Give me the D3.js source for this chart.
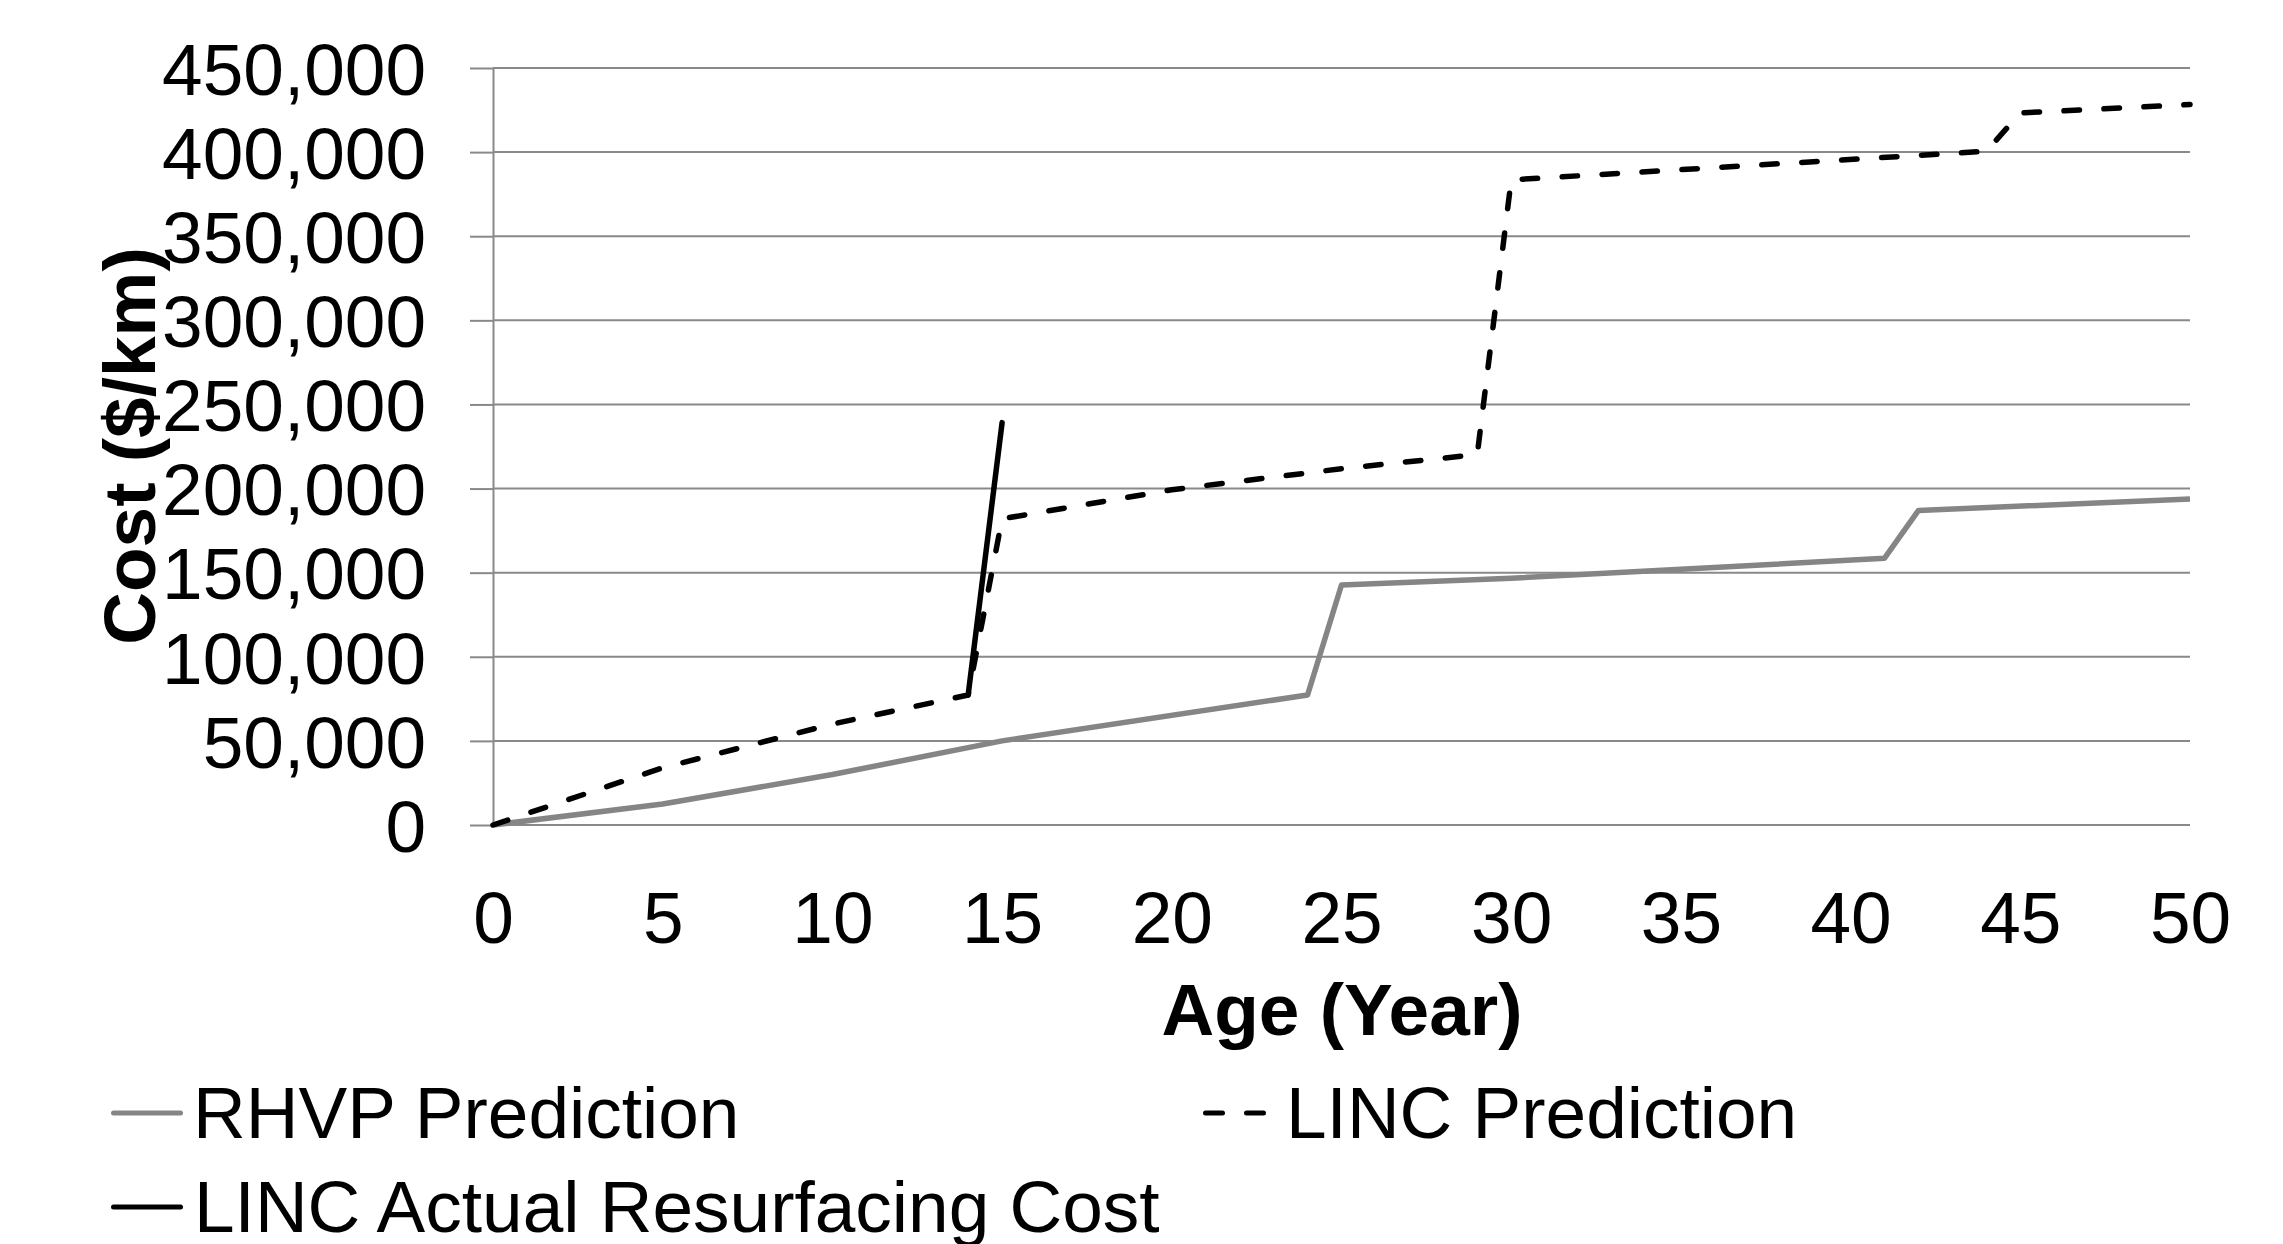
<!DOCTYPE html>
<html>
<head>
<meta charset="utf-8">
<script src="https://cdn.jsdelivr.net/npm/d3@7"></script>
<style>
  body { margin: 0; background: #fff; }
  svg { display: block; font-family: "Liberation Sans", Arial, sans-serif; }
</style>
</head>
<body>
<svg id="chart" width="2283" height="1244"></svg>
<script>
// values
const rhvpAge  = [0, 5, 10, 15, 24, 25, 30, 35, 41, 42, 50];
const rhvpCost = [0, 12500, 30000, 50000, 77300, 142700, 146700, 152000, 158600, 187000, 193800];

const lincAge  = [0, 5, 10, 14, 15, 20, 25, 29, 30, 44, 45, 50];
const lincCost = [0, 34000, 60000, 77300, 182000, 199300, 211800, 220200, 383500, 400500, 423300, 428300];

const actualAge  = [14, 15];
const actualCost = [77300, 239200];

const xTicks = [0, 5, 10, 15, 20, 25, 30, 35, 40, 45, 50];
const yTicks = [0, 50000, 100000, 150000, 200000, 250000, 300000, 350000, 400000, 450000];

const seriesNames = ["RHVP Prediction", "LINC Prediction", "LINC Actual Resurfacing Cost"];

const gridColor = "#898989";
const fontSize = 73;

const svg = d3.select("#chart");

const x = d3.scaleLinear().domain([0, 50]).range([493, 2190]);
const y = d3.scaleLinear().domain([0, 450000]).range([825, 68]);

// horizontal gridlines
svg.append("g")
    .selectAll("line")
    .data(yTicks)
    .join("line")
    .attr("x1", x(0))
    .attr("x2", x(50))
    .attr("y1", d => y(d))
    .attr("y2", d => y(d))
    .attr("stroke", gridColor)
    .attr("stroke-width", 2);

// y axis
const yAxis = svg.append("g")
    .attr("transform", `translate(${x(0)},0)`)
    .call(d3.axisLeft(y).tickValues(yTicks).tickSize(23).tickSizeOuter(0)
        .tickPadding(44).tickFormat(d3.format(",")));
yAxis.select(".domain").attr("stroke", gridColor).attr("stroke-width", 2);
yAxis.selectAll(".tick line").attr("stroke", gridColor).attr("stroke-width", 2);
yAxis.selectAll(".tick text")
    .attr("dy", "0.36em")
    .attr("fill", "#000")
    .style("font-size", fontSize + "px")
    .style("font-family", "'Liberation Sans', Arial, sans-serif");

// x axis (labels only, the zero gridline is the axis)
const xAxis = svg.append("g")
    .attr("transform", `translate(0,${y(0)})`)
    .call(d3.axisBottom(x).tickValues(xTicks).tickSize(0).tickPadding(66));
xAxis.select(".domain").remove();
xAxis.selectAll(".tick text")
    .attr("fill", "#000")
    .style("font-size", fontSize + "px")
    .style("font-family", "'Liberation Sans', Arial, sans-serif");

// axis titles
svg.append("text")
    .attr("x", 1342)
    .attr("y", 1035)
    .attr("text-anchor", "middle")
    .style("font-size", fontSize + "px")
    .style("font-weight", "bold")
    .text("Age (Year)");

svg.append("text")
    .attr("transform", "translate(155,446) rotate(-90)")
    .attr("text-anchor", "middle")
    .style("font-size", fontSize + "px")
    .style("font-weight", "bold")
    .text("Cost ($/km)");

// lines
const line = d3.line().x(d => x(d[0])).y(d => y(d[1]));

svg.append("path")
    .datum(d3.zip(rhvpAge, rhvpCost))
    .attr("d", line)
    .attr("fill", "none")
    .attr("stroke", "#858585")
    .attr("stroke-width", 5.5)
    .attr("stroke-linejoin", "round");

svg.append("path")
    .datum(d3.zip(lincAge, lincCost))
    .attr("d", line)
    .attr("fill", "none")
    .attr("stroke", "#000")
    .attr("stroke-width", 5.5)
    .attr("stroke-dasharray", "15.5,24.5")
    .attr("stroke-linecap", "round")
    .attr("stroke-linejoin", "round");

svg.append("path")
    .datum(d3.zip(actualAge, actualCost))
    .attr("d", line)
    .attr("fill", "none")
    .attr("stroke", "#000")
    .attr("stroke-width", 5.5)
    .attr("stroke-linecap", "round");

// legend
const legend = [
  {name: seriesNames[0], x: 113.5, y: 1113, len: 67, tx: 193, color: "#858585", dash: null},
  {name: seriesNames[1], x: 1205.5, y: 1113, len: 59, tx: 1286, color: "#000", dash: "17,24"},
  {name: seriesNames[2], x: 113.5, y: 1207, len: 67, tx: 194, color: "#000", dash: null}
];

const lg = svg.append("g")
    .selectAll("g")
    .data(legend)
    .join("g");

lg.append("line")
    .attr("x1", d => d.x)
    .attr("x2", d => d.x + d.len)
    .attr("y1", d => d.y)
    .attr("y2", d => d.y)
    .attr("stroke", d => d.color)
    .attr("stroke-width", 5)
    .attr("stroke-linecap", "round")
    .attr("stroke-dasharray", d => d.dash);

lg.append("text")
    .attr("x", d => d.tx)
    .attr("y", d => d.y + 25)
    .style("font-size", fontSize + "px")
    .text(d => d.name);
</script>
</body>
</html>
